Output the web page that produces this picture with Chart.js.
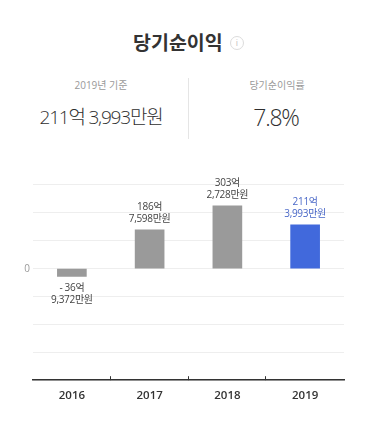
<!DOCTYPE html>
<html lang="ko">
<head>
<meta charset="utf-8">
<title>당기순이익</title>
<script src="https://cdn.jsdelivr.net/npm/chart.js@4"></script>
<style>
  html, body { margin: 0; padding: 0; background: #fff; }
  body { width: 378px; height: 432px; position: relative; overflow: hidden; color: #333;
    font-family: "Open Sans", "Noto Sans CJK KR", sans-serif; }
  .abs { position: absolute; white-space: nowrap; }
  #title { left: 133px; top: 29px; font-size: 19.5px; font-weight: 700; letter-spacing: 0;
    line-height: 26px; font-family: "Noto Sans CJK KR", sans-serif; }
  #info { left: 230px; top: 36px; width: 12px; height: 12px; border: 1.5px solid #dcdcdc; border-radius: 50%;
    color: #c4c4c4; font-size: 9px; line-height: 12px; text-align: center; }
  .small { top: 77px; font-size: 10px; line-height: 16px; color: #999; text-align: center; }
  .big { top: 102px; font-size: 19px; line-height: 30px; font-weight: 300; color: #2e2e2e; text-align: center; letter-spacing: -1.2px; }
  #divider { left: 188px; top: 78px; width: 1px; height: 61px; background: #e5e5e5; }
  #wrap { left: 0; top: 160px; width: 378px; height: 252px; }
</style>
</head>
<body>
<div class="abs" id="title">당기순이익</div>
<div class="abs" id="info">i</div>
<div class="abs small" style="left:0;width:202px">2019년 기준</div>
<div class="abs big" style="left:0;width:202px">211억 3,993만원</div>
<div class="abs" id="divider"></div>
<div class="abs small" style="left:176px;width:202px">당기순이익률</div>
<div class="abs big" style="left:175px;width:202px;font-size:23px">7.8%</div>
<div class="abs" id="wrap"><canvas id="chart_out" width="378" height="252"></canvas></div>
<script>
var years = ['2016', '2017', '2018', '2019'];
var profit = [-36.94, 186.76, 303.27, 211.40]; // 억원
var barLabels = [['- 36억', '9,372만원'], ['186억', '7,598만원'], ['303억', '2,728만원'], ['211억', '3,993만원']];
var barColors = ['#9a9a9a', '#9a9a9a', '#9a9a9a', '#4169dc'];
var labelColors = ['#444', '#444', '#444', '#4a68c8'];
var yMin = -537.6;
var yMax = 403.2;
var yStep = 134.4;

var fontName = '"Open Sans", "Noto Sans CJK KR", sans-serif';

// labels over the bars and the little ticks between the years
var extras = {
  id: 'extras',
  afterDatasetsDraw: function(chart) {
    var ctx = chart.ctx;
    var meta = chart.getDatasetMeta(0);
    ctx.save();
    ctx.font = '10px ' + fontName;
    ctx.textAlign = 'center';
    ctx.textBaseline = 'middle';
    ctx.letterSpacing = '-0.3px';
    for (var i = 0; i < meta.data.length; i++) {
      var bar = meta.data[i];
      var lines = barLabels[i];
      ctx.fillStyle = labelColors[i];
      if (profit[i] < 0) {
        ctx.fillText(lines[0], bar.x, bar.y + 12);
        ctx.fillText(lines[1], bar.x, bar.y + 24);
      } else {
        ctx.fillText(lines[0], bar.x, bar.y - 23);
        ctx.fillText(lines[1], bar.x, bar.y - 11);
      }
    }
    var x = chart.scales.x;
    var bottom = chart.chartArea.bottom;
    ctx.strokeStyle = '#333';
    ctx.lineWidth = 1;
    for (var j = 0; j < years.length - 1; j++) {
      var tx = Math.round((x.getPixelForValue(j) + x.getPixelForValue(j + 1)) / 2) - 0.5;
      ctx.beginPath();
      ctx.moveTo(tx, bottom - 4);
      ctx.lineTo(tx, bottom);
      ctx.stroke();
    }
    ctx.restore();
  }
};

var ctx = document.getElementById('chart_out').getContext('2d');
var cData = new Chart(ctx, {
  type: 'bar',
  plugins: [extras],
  data: {
    labels: years,
    datasets: [{
      data: profit,
      backgroundColor: barColors,
      barThickness: 29
    }]
  },
  options: {
    responsive: false,
    animation: false,
    layout: { padding: { left: 0, right: 34, top: 25, bottom: 0 } },
    plugins: { legend: { display: false }, tooltip: { enabled: false } },
    scales: {
      x: {
        grid: { display: false, drawTicks: false },
        border: { color: '#333', width: 1.5 },
        ticks: { color: '#333', font: { family: fontName, size: 11.5, weight: '600' }, padding: 9, maxRotation: 0 }
      },
      y: {
        min: yMin,
        max: yMax,
        afterBuildTicks: function(scale) {
          var t = [];
          for (var k = 0; k <= 7; k++) { t.push({ value: yMin + yStep * k }); }
          scale.ticks = t;
        },
        afterFit: function(scale) { scale.width = 33; },
        border: { display: false },
        grid: { color: '#eeeeee', lineWidth: 1, drawTicks: false },
        ticks: {
          padding: 3,
          color: '#999',
          font: { family: fontName, size: 10 },
          callback: function(v) { return Math.abs(v) < 1 ? '0' : ''; }
        }
      }
    }
  }
});
</script>
</body>
</html>
